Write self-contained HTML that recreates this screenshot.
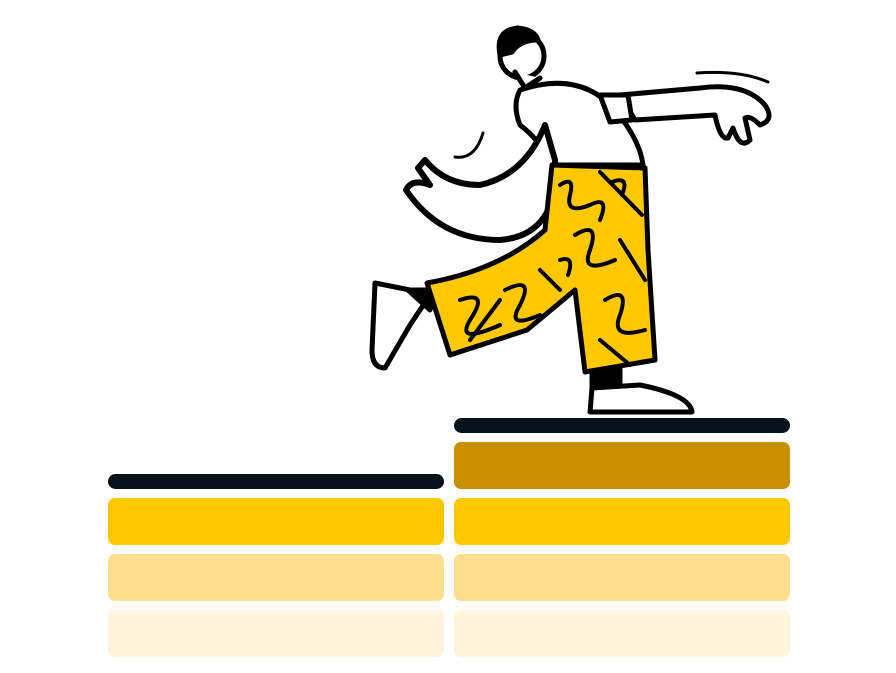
<!DOCTYPE html>
<html><head><style>html,body{margin:0;padding:0;background:#fff}svg{display:block}</style></head><body>
<svg width="896" height="673" viewBox="0 0 896 673" xmlns="http://www.w3.org/2000/svg">
<rect width="896" height="673" fill="#fff"/>
<rect x="108" y="474" width="336" height="15" rx="7.5" fill="#06121c"/>
<rect x="108" y="498" width="336" height="47" rx="7" fill="#ffc800"/>
<rect x="108" y="554" width="336" height="47" rx="7" fill="#ffdf8f"/>
<rect x="108" y="610" width="336" height="47" rx="7" fill="#fff4dd"/>
<rect x="454" y="418" width="336" height="15" rx="7.5" fill="#06121c"/>
<rect x="454" y="442" width="336" height="47" rx="7" fill="#c89000"/>
<rect x="454" y="498" width="336" height="47" rx="7" fill="#ffc800"/>
<rect x="454" y="554" width="336" height="47" rx="7" fill="#ffdf8f"/>
<rect x="454" y="610" width="336" height="47" rx="7" fill="#fff4dd"/>
<g stroke="#000" stroke-width="5" stroke-linejoin="round" stroke-linecap="round">
<path d="M620 95 L700 88 Q745 82 765 105 Q775 120 760 125 Q750 115 745 118 L750 140 Q740 150 733 128 L728 138 Q720 140 715 115 L635 120 Z" fill="#fff"/>
<path d="M697 73 Q740 70 768 82" fill="none" stroke-width="3"/>
<path d="M520 90 Q580 70 615 110 Q640 140 643 165 L552 165 Q540 140 520 125 Q512 105 520 90 Z" fill="#fff"/>
<path d="M600 95 L628 95 L632 120 L610 122 Z" fill="#fff"/>
<path d="M545 125 Q525 175 480 185 Q445 185 425 160 L418 168 L430 185 Q412 178 406 190 Q440 240 500 240 Q560 235 555 160 Z" fill="#fff" stroke-width="6"/>
<path d="M455 157 Q475 160 483 133" fill="none" stroke-width="3"/>
<circle cx="522" cy="56" r="22" fill="#fff"/>
<path d="M500 55 Q495 30 518 28 Q535 30 538 40 Q520 40 512 52 Z" fill="#000"/>
<path d="M515 72 L525 88 L540 78" fill="#fff"/>
<path d="M375 283 L410 290 L430 295 L410 325 L385 368 Q372 368 372 350 Z" fill="#fff"/>
<path d="M408 290 L432 290 L430 310 Z" fill="#000"/>
<rect x="592" y="365" width="28" height="25" fill="#000"/>
<path d="M592 388 L640 385 Q690 395 692 412 L590 412 Z" fill="#fff"/>
<path d="M552 165 L645 168 L648 250 L655 360 L585 372 L575 290 L527 330 L450 355 L427 283 Q500 270 545 230 Z" fill="#ffc800"/>
</g>
<g stroke="#000" stroke-width="4" fill="none" stroke-linecap="round">
<path d="M560 185 Q575 175 570 195 Q565 215 590 205 Q610 195 600 220"/>
<path d="M600 172 L642 215"/>
<path d="M612 182 Q630 175 622 195"/>
<path d="M575 235 Q600 220 590 250 Q580 275 615 260"/>
<path d="M620 240 L645 280"/>
<path d="M560 260 Q575 255 568 275"/>
<path d="M605 300 Q630 285 620 315 Q610 340 645 330"/>
<path d="M600 340 L630 365"/>
<path d="M460 300 Q490 290 470 320 Q455 345 500 325"/>
<path d="M505 290 Q535 275 520 305 Q505 330 540 315"/>
<path d="M470 340 L500 300"/>
<path d="M540 270 L560 290"/>
</g>
</svg>
</body></html>
